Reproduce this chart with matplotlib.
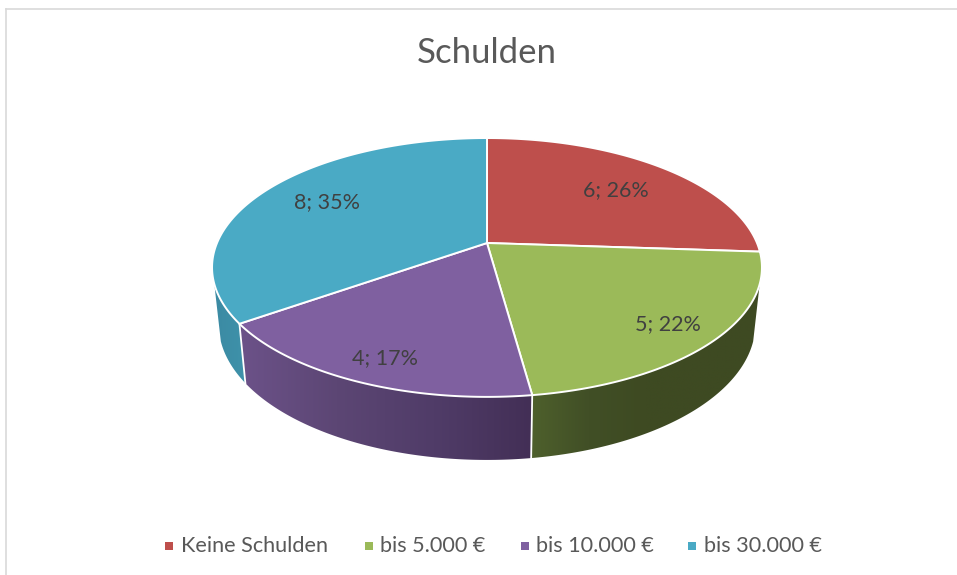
import numpy as np
import matplotlib
matplotlib.use("Agg")
import matplotlib.pyplot as plt
from matplotlib.colors import LinearSegmentedColormap
from matplotlib.patches import Polygon, Rectangle

title = "Schulden"
categories = ["Keine Schulden", "bis 5.000 €", "bis 10.000 €", "bis 30.000 €"]
values = [6, 5, 4, 8]
colors = ["#BE4F4C", "#9BBA59", "#7F60A0", "#4AAAC5"]
side_shades = [
    None,
    ["#4E602C", "#414F26", "#3E4A22", "#3E4A22", "#3E4A22"],
    ["#6C5289", "#5C4674", "#503C68", "#432F56"],
    ["#3B8AA3", "#3F92AA"],
]

label_xy = [(616, 190), (668, 324), (385, 358), (327, 202)]
legend_sq = [169, 369, 525, 692]
legend_tx = [181, 380, 536, 704]

plt.rcParams["font.family"] = ["Lato", "DejaVu Sans"]
fig = plt.figure(figsize=(9.57, 5.75), dpi=100)
ax = fig.add_axes([0, 0, 1, 1])
ax.set_xlim(0, 957)
ax.set_ylim(575, 0)
ax.axis("off")

# chart frame
ax.plot([6, 6], [575, 9], color="#D9D9D9", lw=1.2)
ax.plot([6, 957], [9, 9], color="#D9D9D9", lw=1.2)


def top(theta):
    """Perspective projection of the pie's top disc; theta clockwise from 12 o'clock."""
    u, v = np.sin(theta), np.cos(theta)
    w = 1 + 0.189 * v
    return 487 + 270 * u / w, 243 - 124.8 * v / w


def bottom(theta):
    u, v = np.sin(theta), np.cos(theta)
    w = 1 + 0.189 * v
    return 487 + 0.976 * 270 * u / w, 298.4 - 131 * v / w


vals = np.array(values, float)
edges = np.concatenate([[0], np.cumsum(vals)]) / vals.sum() * 2 * np.pi
front_a, front_b = np.radians(108), np.radians(252)

# side wall: a horizontal gradient clipped to each wedge's wall outline
for i in range(len(values)):
    a, b = max(edges[i], front_a), min(edges[i + 1], front_b)
    if a >= b or side_shades[i] is None:
        continue
    th = np.linspace(a, b, 200)
    xt, yt = top(th)
    xb, yb = bottom(th)
    px, py = np.r_[xt, xb[::-1]], np.r_[yt, yb[::-1]]
    outline = Polygon(np.c_[px, py], closed=True, facecolor="none", edgecolor="none",
                      transform=ax.transData, zorder=2)
    ax.add_patch(outline)
    cmap = LinearSegmentedColormap.from_list(f"side{i}", side_shades[i])
    grad = np.linspace(0, 1, 256)[None, :]
    im = ax.imshow(grad, cmap=cmap, aspect="auto", interpolation="bilinear",
                   extent=(px.min(), px.max(), py.max(), py.min()), zorder=2)
    im.set_clip_path(outline)
ax.set_xlim(0, 957)
ax.set_ylim(575, 0)

# white seams on the side wall
for e in edges[1:-1]:
    if front_a < e < front_b:
        xt, yt = top(e)
        xb, yb = bottom(e)
        ax.plot([xt, xb], [yt, yb], color="white", lw=1.3, zorder=3)

# top surface
for i in range(len(values)):
    th = np.linspace(edges[i], edges[i + 1], 200)
    xt, yt = top(th)
    ax.fill(np.r_[487, xt], np.r_[243, yt], facecolor=colors[i], edgecolor="white",
            lw=1.4, joinstyle="round", zorder=4)

# data labels
total = vals.sum()
for v, (x, y) in zip(values, label_xy):
    ax.text(x, y, f"{v}; {round(100 * v / total)}%", ha="center", va="center",
            fontsize=15.5, color="#404040", zorder=5)

ax.text(487, 53, title, ha="center", va="center", fontsize=25, color="#595959")

# legend
for cat, col, sx, tx in zip(categories, colors, legend_sq, legend_tx):
    ax.add_patch(Rectangle((sx - 4, 542), 8, 8, facecolor=col, edgecolor="none"))
    ax.text(tx, 546.5, cat, ha="left", va="center", fontsize=15.6, color="#595959")

fig.savefig("out.png", dpi=100)
